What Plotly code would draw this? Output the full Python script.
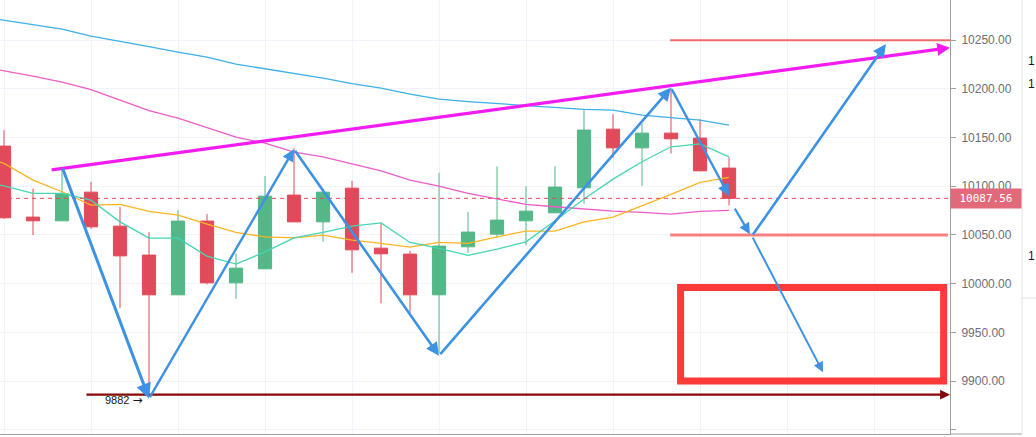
import plotly.graph_objects as go

# ---------------- data ----------------
idx = list(range(26))
open_ = [10141.2, 10068.3, 10064.5, 10093.9, 10059.0, 10029.3, 9988.5, 10064.2, 10000.8, 10015.2,
         10090.9, 10063.4, 10098.0, 10036.4, 10030.3, 9988.5, 10037.8, 10050.8, 10064.5, 10072.7,
         10098.4, 10158.6, 10139.4, 10154.5, 10149.4, 10118.6]
high = [10157.6, 10097.7, 10119.9, 10104.5, 10078.8, 10052.9, 10075.5, 10071.4, 10031.0, 10110.4,
        10138.8, 10097.7, 10105.5, 10062.4, 10033.7, 10113.8, 10073.4, 10120.3, 10100.1, 10120.6,
        10178.8, 10174.0, 10164.5, 10200.7, 10168.9, 10129.6]
low = [10066.5, 10049.8, 10064.2, 10056.3, 9974.8, 9884.0, 9988.5, 9999.2, 9984.4, 10015.0,
       10063.1, 10042.9, 10011.1, 9979.7, 9969.4, 9929.0, 10031.6, 10048.0, 10039.5, 10072.4,
       10081.9, 10129.2, 10100.4, 10133.7, 10115.5, 10080.3]
close = [10067.6, 10064.5, 10092.2, 10058.3, 10028.5, 9988.5, 10064.2, 10000.8, 10015.9, 10089.8,
         10063.4, 10093.9, 10034.7, 10030.6, 9988.5, 10038.5, 10052.9, 10065.2, 10074.4, 10099.1,
         10157.6, 10139.4, 10154.5, 10148.7, 10115.8, 10087.56]

ma_x = list(range(-1, 26))
ma_teal = [10106.0, 10100.4, 10092.6, 10092.6, 10085.7, 10063.4, 10046.7, 10046.7, 10028.2, 10020.0,
           10032.6, 10047.0, 10052.6, 10059.0, 10062.4, 10042.3, 10036.1, 10029.0, 10035.4, 10042.9,
           10064.5, 10086.8, 10107.3, 10125.1, 10140.5, 10143.5, 10130.2]
ma_orange = [10133.0, 10123.4, 10106.3, 10094.3, 10080.6, 10081.3, 10074.1, 10070.3, 10061.1, 10052.6,
             10048.0, 10047.0, 10049.8, 10044.7, 10041.3, 10037.5, 10042.3, 10041.3, 10048.0, 10053.9,
             10053.9, 10063.4, 10068.3, 10079.6, 10091.6, 10103.9, 10109.0]
ma_pink = [10224.0, 10218.7, 10213.0, 10206.9, 10199.2, 10188.4, 10177.6, 10169.9, 10160.2, 10150.4,
           10144.2, 10135.0, 10130.2, 10123.3, 10115.8, 10106.3, 10100.1, 10092.6, 10086.8, 10081.3,
           10078.9, 10076.5, 10074.4, 10073.1, 10071.4, 10074.1, 10075.2]
ma_blue = [10275.0, 10270.5, 10265.9, 10261.3, 10254.1, 10249.0, 10243.3, 10237.7, 10232.5, 10225.4,
           10220.7, 10216.1, 10211.0, 10205.3, 10200.7, 10194.6, 10189.4, 10186.9, 10184.8, 10183.3,
           10181.2, 10178.8, 10178.1, 10173.0, 10170.4, 10167.9, 10162.7]

last_price = 10087.56
low_value_text = "9882"
ytick_vals = [9850, 9900, 9950, 10000, 10050, 10100, 10150, 10200, 10250]
ytick_text = ["" if v == 9850 else f"{v:.2f}" for v in ytick_vals]

# drawings (chart annotations, in data units)
zigzag_x = [2.0, 5.0, 10.0, 15.0, 23.0, 25.0]
zigzag_y = [10120.0, 9882.0, 10138.0, 9926.0, 10201.0, 10090.0]
proj_tail_x = [25.17, 25.79, 25.79]
proj_tail_y = [10078.5, 10048.8, 10048.8]
proj_head_x = [25.72, 30.41, 28.24]
proj_head_y = [10050.8, 10245.9, 9909.1]
trend_x = [1.59, 32.62]
trend_y = [10116.5, 10242.3]
resist_level = 10250
resist_x = [22.97, 32.62]
support_level = 10050
support_x = [22.97, 32.55]
floor_level = 9886
floor_x = [2.79, 32.62]
box_x = [23.33, 32.40]
box_y = [9900.0, 9996.0]

# ---------------- figure ----------------
BLUE = "#3d92e3"
fig = go.Figure()

fig.add_trace(go.Scatter(x=ma_x, y=ma_blue, mode="lines", line=dict(color="#3cb0e8", width=1.3), hoverinfo="skip"))
fig.add_trace(go.Scatter(x=ma_x, y=ma_pink, mode="lines", line=dict(color="#ee5cc8", width=1.3), hoverinfo="skip"))
fig.add_trace(go.Scatter(x=ma_x, y=ma_orange, mode="lines", line=dict(color="#ffb420", width=1.3), hoverinfo="skip"))
fig.add_trace(go.Scatter(x=ma_x, y=ma_teal, mode="lines", line=dict(color="#45d6b2", width=1.3), hoverinfo="skip"))

fig.add_trace(go.Candlestick(
    x=idx, open=open_, high=high, low=low, close=close,
    increasing=dict(line=dict(color="#53b787", width=1), fillcolor="#53b787"),
    decreasing=dict(line=dict(color="#e04a5a", width=1), fillcolor="#e04a5a"),
    whiskerwidth=0, hoverinfo="skip",
))

shapes = []
# last price dashed line
shapes.append(dict(type="line", xref="paper", x0=0, x1=1, yref="y", y0=last_price, y1=last_price,
                   line=dict(color="#e04a5a", width=1, dash="4px,4px"), layer="above"))
# horizontal levels
shapes.append(dict(type="line", xref="x", x0=resist_x[0], x1=resist_x[1], yref="y", y0=resist_level, y1=resist_level,
                   line=dict(color="#f06a6a", width=2)))
shapes.append(dict(type="line", xref="x", x0=support_x[0], x1=support_x[1], yref="y", y0=support_level, y1=support_level,
                   line=dict(color="rgba(250,80,80,0.72)", width=3)))
# target rectangle
shapes.append(dict(type="rect", xref="x", x0=box_x[0], x1=box_x[1], yref="y", y0=box_y[0], y1=box_y[1],
                   line=dict(color="#fd3a3a", width=7), fillcolor="rgba(0,0,0,0)"))
# frame pieces outside the plot
shapes.append(dict(type="line", xref="paper", x0=1.0, x1=1022/950, yref="paper", y0=0, y1=0,
                   line=dict(color="#a0a0a0", width=1)))
shapes.append(dict(type="line", xref="paper", x0=1022/950, x1=1022/950, yref="paper", y0=0, y1=1.01,
                   line=dict(color="#e0e3eb", width=1)))
shapes.append(dict(type="line", xref="paper", x0=1022/950, x1=1036/950, yref="paper", y0=(434-298)/434, y1=(434-298)/434,
                   line=dict(color="#e0e3eb", width=1)))

annotations = []
def arrow(tx, ty, hx, hy, color, width, head=2, size=1.0):
    annotations.append(dict(x=hx, y=hy, ax=tx, ay=ty, xref="x", yref="y", axref="x", ayref="y",
                            text="", showarrow=True, arrowhead=head, arrowsize=size, arrowwidth=width,
                            arrowcolor=color, standoff=0, startstandoff=0))

# magenta trend line
arrow(trend_x[0], trend_y[0], trend_x[1], trend_y[1], "#f21cf2", 3.2, head=2, size=0.8)
# dark red floor arrow
arrow(floor_x[0], floor_level, floor_x[1], floor_level, "#870808", 2.2, head=2, size=0.9)
# zigzag arrows
zw = [3.0, 2.4, 2.6, 2.6, 2.4]
for i in range(len(zigzag_x) - 1):
    arrow(zigzag_x[i], zigzag_y[i], zigzag_x[i + 1], zigzag_y[i + 1], BLUE, zw[i], head=2, size=1.0)
pw = [2.2, 2.6, 2.0]
for i in range(len(proj_tail_x)):
    arrow(proj_tail_x[i], proj_tail_y[i], proj_head_x[i], proj_head_y[i], BLUE, pw[i], head=2, size=1.0)

# low label
annotations.append(dict(x=4.86, y=9880.4, xref="x", yref="y",
                        text=low_value_text + " <span style='font-family:DejaVu Sans;font-size:12px'>→</span>",
                        showarrow=False, xanchor="right", yanchor="middle",
                        font=dict(family="Liberation Sans, Arial", size=11, color="#131722")))
# last price label
annotations.append(dict(x=1.0, y=last_price, xref="paper", yref="y", text=f"{last_price:.2f}", showarrow=False,
                        xanchor="left", yanchor="middle", bgcolor="#e2697a", width=66, height=15, borderpad=2,
                        font=dict(family="DejaVu Sans Mono", size=11, color="white")))
# partial labels from neighbouring pane
for py in [61, 84, 256]:
    annotations.append(dict(x=1031/950, y=(434-py)/434, xref="paper", yref="paper", text="1", showarrow=False,
                            xanchor="center", yanchor="middle",
                            font=dict(family="Liberation Sans, Arial", size=12, color="#131722")))

fig.update_layout(
    width=1036, height=437,
    margin=dict(l=0, r=86, t=0, b=3),
    paper_bgcolor="white", plot_bgcolor="white",
    showlegend=False,
    boxgap=0.35,
    shapes=shapes, annotations=annotations,
    xaxis=dict(range=[-0.138, 32.62], rangeslider=dict(visible=False), showticklabels=False,
               tick0=0, dtick=3, showgrid=True, gridcolor="#f0f3fa", gridwidth=1, zeroline=False,
               showline=True, linecolor="#a0a0a0", linewidth=1, ticks=""),
    yaxis=dict(range=[9845.6, 10291.2], side="right", tickvals=ytick_vals, ticktext=ytick_text,
               showgrid=True, gridcolor="#f0f3fa", gridwidth=1, zeroline=False,
               showline=True, linecolor="#a0a0a0", linewidth=1, ticks="outside", ticklen=5,
               tickcolor="#a0a0a0", ticklabelstandoff=3,
               tickfont=dict(family="Liberation Sans, Arial", size=12, color="#6b6e78")),
)

fig.write_html("out.html", config={"displayModeBar": False},
               post_script="document.body.style.margin='0';document.body.style.overflow='hidden';")
